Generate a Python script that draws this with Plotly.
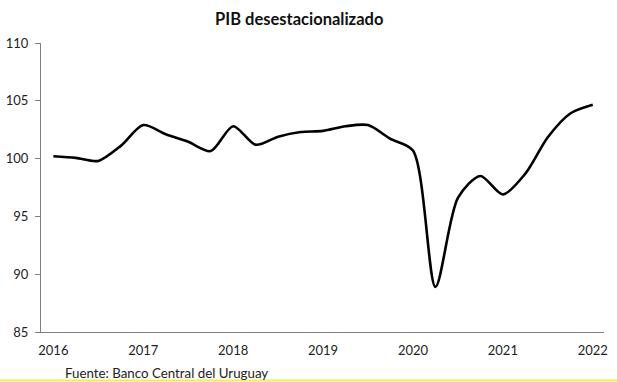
import plotly.graph_objects as go

quarters = ["2016T1","2016T2","2016T3","2016T4","2017T1","2017T2","2017T3","2017T4",
            "2018T1","2018T2","2018T3","2018T4","2019T1","2019T2","2019T3","2019T4",
            "2020T1","2020T2","2020T3","2020T4","2021T1","2021T2","2021T3","2021T4","2022T1"]
pib = [100.2, 100.06, 99.8, 101.1, 102.9, 102.1, 101.45, 100.65,
       102.8, 101.2, 101.9, 102.3, 102.4, 102.8, 102.9, 101.7,
       100.7, 88.9, 96.6, 98.5, 96.9, 98.7, 101.85, 103.9, 104.65]
year_labels = ["2016","2017","2018","2019","2020","2021","2022"]
year_pos = [0, 4, 8, 12, 16, 20, 24]

FONT = "Lato"
fig = go.Figure()
fig.add_trace(go.Scatter(
    x=list(range(len(pib))), y=pib, mode="lines",
    line=dict(color="black", width=2.6, shape="spline", smoothing=0.8),
    text=quarters, hoverinfo="text+y", showlegend=False))

fig.update_layout(
    width=617, height=382,
    margin=dict(l=41, r=13, t=43, b=50, autoexpand=False),
    paper_bgcolor="white", plot_bgcolor="white",
    font=dict(family=FONT, size=13, color="#222"),
    title=dict(text="<b>PIB desestacionalizado</b>", x=0.485, xanchor="center",
               y=1 - 19/382, yanchor="middle", font=dict(family=FONT, size=16.5, color="#111")),
    xaxis=dict(range=[-0.55, 24.5], tickmode="array", tickvals=year_pos, ticktext=year_labels,
               showline=True, linecolor="#7f7f7f", linewidth=1.2, showgrid=False, zeroline=False,
               ticks="", ticklabelstandoff=6, fixedrange=True, automargin=False),
    yaxis=dict(range=[85, 110], tickvals=[85, 90, 95, 100, 105, 110],
               showline=True, linecolor="#7f7f7f", linewidth=1.2, showgrid=False, zeroline=False,
               ticks="outside", ticklen=5, tickcolor="#7f7f7f", ticklabelstandoff=4, fixedrange=True,
               automargin=False),
)
fig.add_annotation(text="Fuente: Banco Central del Uruguay", xref="paper", yref="paper",
                   x=(63 - 41) / 563, y=-(372.5 - 332) / 289, xanchor="left", yanchor="middle",
                   showarrow=False, font=dict(family=FONT, size=13.3, color="#222"))
fig.add_shape(type="line", xref="paper", yref="paper", x0=-41/563, x1=1 + 13/563,
              y0=-(380.5 - 332) / 289, y1=-(380.5 - 332) / 289,
              line=dict(color="#f2f23a", width=2))
fig.write_html("out.html", post_script="document.body.style.margin='0';",
               config={"displayModeBar": False})
